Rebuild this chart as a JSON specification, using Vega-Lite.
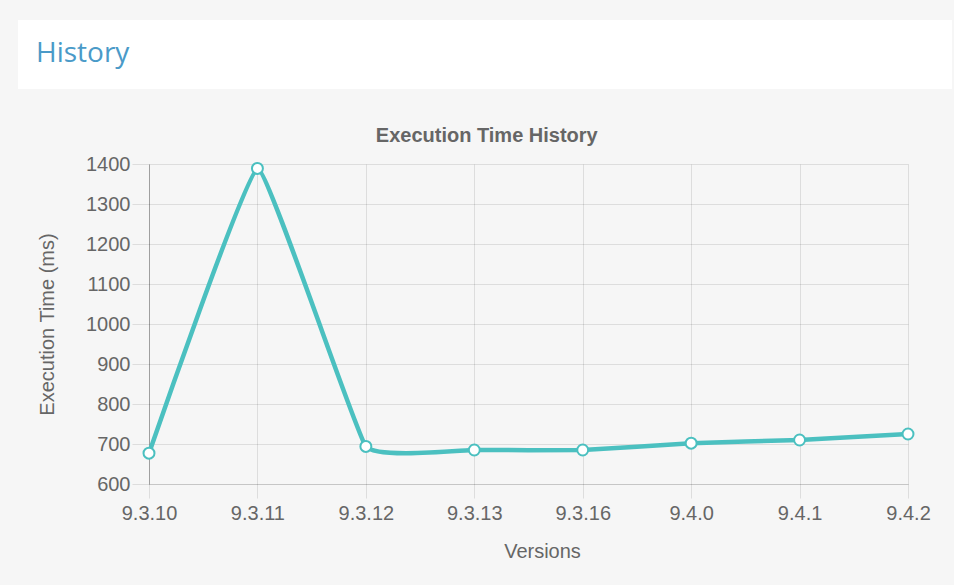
{
  "$schema": "https://vega.github.io/schema/vega-lite/v6.json",
  "background": "#f6f6f6",
  "padding": {"left": 18, "top": 20, "right": 2, "bottom": 24},
  "autosize": {"type": "pad"},
  "spacing": 37,
  "config": {"font": "Liberation Sans", "view": {"stroke": null}},
  "vconcat": [
    {
      "width": 934,
      "height": 69,
      "view": {"fill": "#ffffff", "stroke": null},
      "data": {"values": [{"label": "History"}]},
      "mark": {"type": "text", "font": "Open Sans", "fontSize": 28, "color": "#4a9ac8", "align": "left", "baseline": "alphabetic"},
      "encoding": {
        "text": {"field": "label"},
        "x": {"value": 18},
        "y": {"value": 42}
      }
    },
    {
      "spacing": 18,
      "hconcat": [
        {
          "width": 1,
          "height": 1,
          "data": {"values": []},
          "mark": {"type": "point", "opacity": 0}
        },
        {
          "width": 787,
          "height": 320,
          "title": {
            "text": "Execution Time History",
            "fontSize": 20,
            "fontWeight": "bold",
            "color": "#666666",
            "anchor": "middle",
            "frame": "bounds",
            "offset": 8
          },
          "data": {
            "values": [
              {"version": "9.3.10", "time": 677},
              {"version": "9.3.11", "time": 1389},
              {"version": "9.3.12", "time": 694},
              {"version": "9.3.13", "time": 685},
              {"version": "9.3.16", "time": 685},
              {"version": "9.4.0", "time": 702},
              {"version": "9.4.1", "time": 710},
              {"version": "9.4.2", "time": 725}
            ]
          },
          "encoding": {
            "x": {
              "field": "version",
              "type": "ordinal",
              "sort": null,
              "scale": {"type": "point", "range": [0, 759], "padding": 0},
              "axis": {
                "title": "Versions",
                "titleFontSize": 20,
                "titleFontWeight": "normal",
                "titleColor": "#666666",
                "titlePadding": 18,
                "titleX": 393,
                "labelFontSize": 20,
                "labelColor": "#666666",
                "labelAngle": 0,
                "labelPadding": 5,
                "tickSize": 14,
                "tickColor": "rgba(0,0,0,0.1)",
                "grid": true,
                "gridColor": "rgba(0,0,0,0.1)",
                "domainColor": "rgba(0,0,0,0.1)"
              }
            },
            "y": {
              "field": "time",
              "type": "quantitative",
              "scale": {"domain": [600, 1400], "nice": false, "zero": false},
              "axis": {
                "title": "Execution Time (ms)",
                "titleFontSize": 20,
                "titleFontWeight": "normal",
                "titleColor": "#666666",
                "titlePadding": 28,
                "labelFontSize": 20,
                "labelColor": "#666666",
                "labelPadding": 2,
                "format": "d",
                "tickSize": 17,
                "tickColor": "rgba(0,0,0,0.1)",
                "values": [600, 700, 800, 900, 1000, 1100, 1200, 1300, 1400],
                "grid": true,
                "gridColor": "rgba(0,0,0,0.1)",
                "domainColor": "rgba(0,0,0,0.28)"
              }
            }
          },
          "layer": [
            {
              "mark": {"type": "line", "color": "#4bc0c0", "strokeWidth": 4.5, "interpolate": "cardinal", "tension": 0.72}
            },
            {
              "mark": {"type": "point", "filled": true, "fill": "#ffffff", "stroke": "#4bc0c0", "strokeWidth": 2, "size": 120, "opacity": 1}
            }
          ]
        }
      ]
    }
  ]
}
